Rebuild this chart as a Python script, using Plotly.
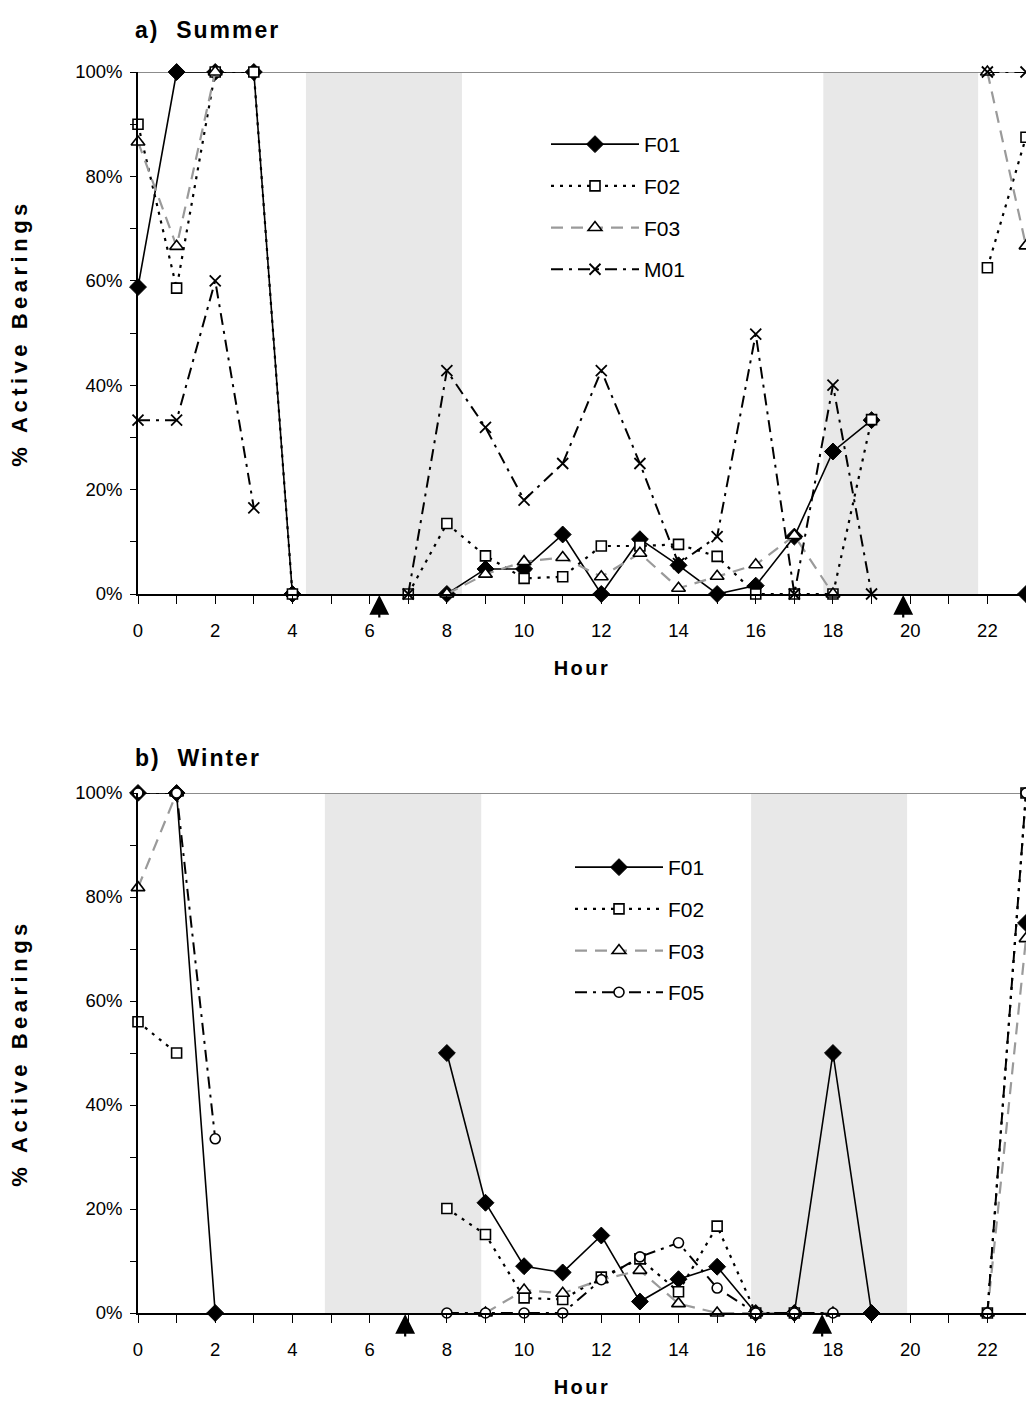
import plotly.graph_objects as go

N = None
hours = list(range(24))

# ---- Summer (a) ----
s_F01 = [58.8, 100, 100, 100, 0, N, N, N, 0, 4.8, 4.8, 11.4, 0, 10.5, 5.5, 0, 1.6, 11.0, 27.3, 33.3, N, N, N, 0]
s_F02 = [90.0, 58.6, 100, 100, 0, N, N, 0, 13.5, 7.3, 3.0, 3.3, 9.2, 9.2, 9.5, 7.2, 0, 0, 0, 33.4, N, N, 62.5, 87.5]
s_F03 = [86.6, 66.6, 100, N, N, N, N, N, 0, 3.8, 6.2, 7.0, 3.3, 7.8, 1.1, 3.4, 5.6, 11.2, 0, N, N, N, 100, 66.7]
s_M01 = [33.3, 33.3, 60.0, 16.5, N, N, N, 0, 42.8, 31.9, 18.0, 25.0, 42.8, 25.0, 5.8, 11.0, 49.8, 0, 40.0, 0, N, N, 100, 100]

# ---- Winter (b) ----
w_F01 = [100, 100, 0, N, N, N, N, N, 50.0, 21.2, 9.0, 7.8, 14.9, 2.2, 6.5, 8.9, 0, 0, 50.0, 0, N, N, N, 75.0]
w_F02 = [56.0, 50.0, N, N, N, N, N, N, 20.1, 15.1, 2.9, 2.6, 6.9, 10.4, 4.1, 16.7, 0, 0, N, N, N, N, 0, 100]
w_F03 = [81.8, 100, N, N, N, N, N, N, N, 0, 4.4, 3.8, 6.4, 8.2, 1.8, 0, 0, 0, 0, N, N, N, 0, 72.0]
w_F05 = [100, 100, 33.5, N, N, N, N, N, 0, 0, 0, 0, 6.4, 10.8, 13.5, 4.8, 0, 0, 0, N, N, N, 0, 100]

summer_shade = [(4.35, 8.39), (17.75, 21.76)]
winter_shade = [(4.84, 8.89), (15.88, 19.92)]
summer_arrows = [6.25, 19.82]
winter_arrows = [6.92, 17.72]

FONT = "Liberation Sans, Arial, sans-serif"
W, H = 1026, 1412
L = 138
PW = W - L


def px_x(p):
    return (p - L) / PW


def px_y(p):
    return 1 - p / H


def spaced(txt, sp):
    return '<span style="letter-spacing:%spx"><b>%s</b></span>' % (sp, txt)


styles = {
    "F01": dict(line=dict(color="black", width=1.6, dash="solid"),
                marker=dict(symbol="diamond", size=13, color="black", line=dict(color="black", width=1))),
    "F02": dict(line=dict(color="black", width=2.2, dash="3px,6px"),
                marker=dict(symbol="square", size=10, color="white", line=dict(color="black", width=1.6))),
    "F03": dict(line=dict(color="#9a9a9a", width=2.2, dash="12px,8px"),
                marker=dict(symbol="triangle-up", size=12, color="white", line=dict(color="black", width=1.6))),
    "M01": dict(line=dict(color="black", width=2.0, dash="12px,6px,3px,6px"),
                marker=dict(symbol="x-thin-open", size=11, color="black", line=dict(color="black", width=1.8))),
    "F05": dict(line=dict(color="black", width=2.0, dash="12px,6px,3px,6px"),
                marker=dict(symbol="circle", size=10, color="white", line=dict(color="black", width=1.6))),
}

fig = go.Figure()

top_dom = [px_y(594), px_y(72)]
bot_dom = [px_y(1313), px_y(793)]

summer = [("F01", s_F01), ("F02", s_F02), ("F03", s_F03), ("M01", s_M01)]
winter = [("F01", w_F01), ("F02", w_F02), ("F03", w_F03), ("F05", w_F05)]

for name, vals in summer:
    st = styles[name]
    fig.add_trace(go.Scatter(x=hours, y=vals, name=name, mode="lines+markers",
                             line=st["line"], marker=st["marker"], cliponaxis=False,
                             xaxis="x", yaxis="y", legend="legend", legendgroup="s" + name,
                             connectgaps=False))
for name, vals in winter:
    st = styles[name]
    fig.add_trace(go.Scatter(x=hours, y=vals, name=name, mode="lines+markers",
                             line=st["line"], marker=st["marker"], cliponaxis=False,
                             xaxis="x2", yaxis="y2", legend="legend2", legendgroup="w" + name,
                             connectgaps=False))

shapes = []
for xa, ya, shades in [("x", "y", summer_shade), ("x2", "y2", winter_shade)]:
    for a, b in shades:
        shapes.append(dict(type="rect", xref=xa, yref=ya + " domain", x0=a, x1=b, y0=0, y1=1,
                           fillcolor="#e8e8e8", line=dict(width=0), layer="below"))
    shapes.append(dict(type="line", xref=xa + " domain", yref=ya, x0=0, x1=1, y0=100, y1=100,
                       line=dict(color="#8c8c8c", width=2), layer="below"))

annotations = []
for xa, ya, arrs in [("x", "y", summer_arrows), ("x2", "y2", winter_arrows)]:
    for xv in arrs:
        annotations.append(dict(x=xv, y=0, xref=xa, yref=ya, text="", showarrow=True,
                                ax=0, ay=25, arrowhead=2, arrowsize=1.8, arrowwidth=2.2,
                                arrowcolor="black", standoff=1))
annotations.append(dict(text=spaced("a)&nbsp;&nbsp;Summer", 2), xref="paper", yref="paper",
                        x=px_x(133), y=px_y(30),
                        xanchor="left", yanchor="middle", showarrow=False,
                        font=dict(family=FONT, size=23, color="black")))
annotations.append(dict(text=spaced("b)&nbsp;&nbsp;Winter", 2), xref="paper", yref="paper",
                        x=px_x(133), y=px_y(758),
                        xanchor="left", yanchor="middle", showarrow=False,
                        font=dict(family=FONT, size=23, color="black")))


def xaxis_cfg(anchor):
    return dict(range=[0, 23], domain=[0, 1], anchor=anchor, showgrid=False, zeroline=False,
                automargin=False,
                showline=True, linecolor="black", linewidth=2,
                ticks="outside", ticklen=8, tickwidth=1.3, tickcolor="black",
                tickmode="linear", tick0=0, dtick=2, ticklabelstandoff=11,
                minor=dict(ticks="outside", ticklen=8, tickwidth=1.3, tickcolor="black", dtick=1, showgrid=False),
                tickfont=dict(family=FONT, size=18.5, color="black"),
                title=dict(text=spaced("Hour", 2.5), font=dict(family=FONT, size=20, color="black"), standoff=21))


def yaxis_cfg(anchor, dom):
    return dict(range=[0, 100], domain=dom, anchor=anchor, showgrid=False, zeroline=False,
                automargin=False,
                showline=True, linecolor="black", linewidth=1.5,
                ticks="outside", ticklen=6, tickwidth=1.3, tickcolor="black",
                tickmode="linear", tick0=0, dtick=20, ticksuffix="%", ticklabelstandoff=4,
                minor=dict(ticks="outside", ticklen=6, tickwidth=1.3, tickcolor="black", dtick=10, showgrid=False),
                tickfont=dict(family=FONT, size=18.5, color="black"),
                title=dict(text=spaced("% Active Bearings", 4.5), font=dict(family=FONT, size=22, color="black"),
                           standoff=42))


legend_common = dict(bgcolor="rgba(0,0,0,0)", borderwidth=0, itemwidth=88,
                     tracegroupgap=11.4, font=dict(family=FONT, size=21, color="black"),
                     xanchor="left", yanchor="top", itemclick=False, itemdoubleclick=False)

fig.update_layout(
    width=W, height=H,
    margin=dict(l=L, r=0, t=0, b=0, autoexpand=False),
    paper_bgcolor="white", plot_bgcolor="white",
    font=dict(family=FONT, size=17, color="black"),
    xaxis=xaxis_cfg("y"),
    yaxis=yaxis_cfg("x", top_dom),
    xaxis2=xaxis_cfg("y2"),
    yaxis2=yaxis_cfg("x2", bot_dom),
    legend=dict(x=px_x(546), y=px_y(124), **legend_common),
    legend2=dict(x=px_x(570), y=px_y(847), **legend_common),
    shapes=shapes,
    annotations=annotations,
    showlegend=True,
)

fig.write_html("out.html")
